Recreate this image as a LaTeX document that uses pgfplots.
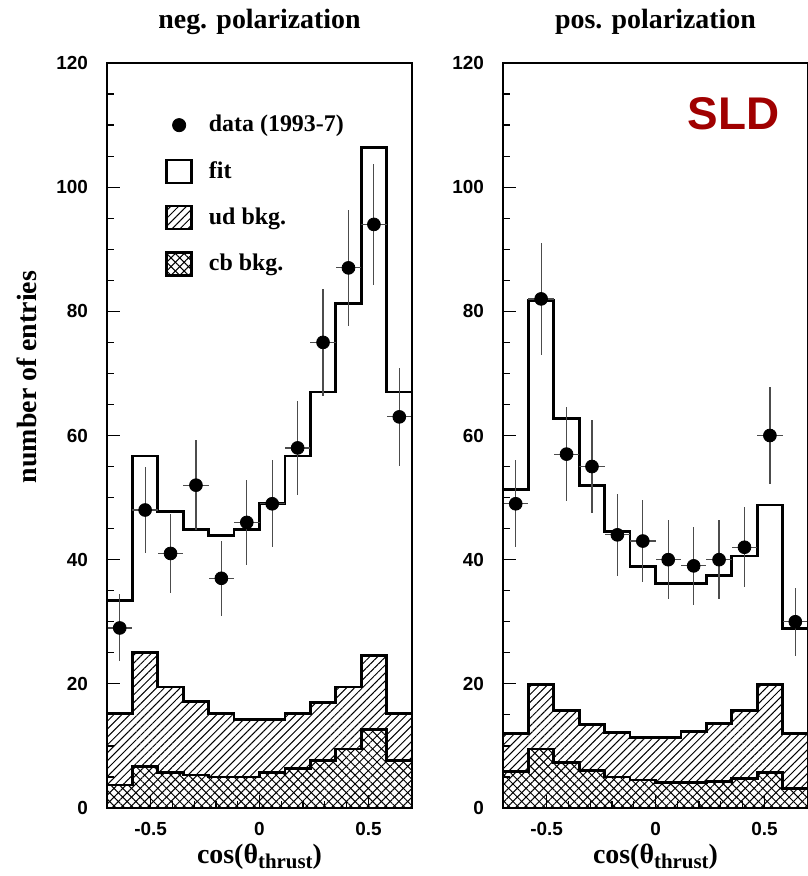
\documentclass[border=0pt]{standalone}
\usepackage{fontspec}
\setmainfont{Liberation Serif}
\setsansfont{Liberation Sans}
\usepackage{pgfplots}
\usepackage{pgfplotstable}
\pgfplotsset{compat=1.18}
\usetikzlibrary{patterns.meta}
\definecolor{sldred}{RGB}{160,0,0}

\pgfplotstableread{
edge fit ud cb
-0.70000 33.4 15.2 3.7
-0.58333 56.7 25.1 6.7
-0.46667 47.8 19.5 5.7
-0.35000 44.8 17.1 5.3
-0.23333 43.9 15.2 5.0
-0.11667 44.9 14.2 5.0
0.00000 49.0 14.2 5.7
0.11667 56.7 15.2 6.4
0.23333 67.0 17.0 7.7
0.35000 81.3 19.5 9.5
0.46667 106.4 24.6 12.6
0.58333 67.0 15.2 7.7
0.70000 67.0 15.2 7.7
}\negH

\pgfplotstableread{
x y ey
-0.64167 29 5.39
-0.52500 48 6.93
-0.40833 41 6.40
-0.29167 52 7.21
-0.17500 37 6.08
-0.05833 46 6.78
0.05833 49 7.00
0.17500 58 7.62
0.29167 75 8.66
0.40833 87 9.33
0.52500 94 9.70
0.64167 63 7.94
}\negD

\pgfplotstableread{
edge fit ud cb
-0.70000 51.3 12.0 5.9
-0.58333 81.8 19.9 9.5
-0.46667 62.8 15.7 7.3
-0.35000 52.0 13.5 6.0
-0.23333 44.5 12.1 5.0
-0.11667 38.9 11.4 4.5
0.00000 36.2 11.4 4.1
0.11667 36.1 12.3 4.1
0.23333 37.4 13.6 4.3
0.35000 40.6 15.7 4.7
0.46667 48.8 19.9 5.7
0.58333 28.9 12.0 3.2
0.70000 28.9 12.0 3.2
}\posH

\pgfplotstableread{
x y ey
-0.64167 49 7.00
-0.52500 82 9.06
-0.40833 57 7.55
-0.29167 55 7.42
-0.17500 44 6.63
-0.05833 43 6.56
0.05833 40 6.32
0.17500 39 6.24
0.29167 40 6.32
0.40833 42 6.48
0.52500 60 7.75
0.64167 30 5.48
}\posD

\tikzset{
  udpat/.style={pattern={Lines[angle=45,distance=2.8bp,line width=0.5bp]}},
  cbpatA/.style={pattern={Lines[angle=45,distance=3.1bp,line width=0.5bp]}},
  cbpatB/.style={pattern={Lines[angle=-45,distance=3.1bp,line width=0.5bp]}},
}

\pgfplotsset{
  myax/.style={
    scale only axis, width=152.5bp, height=372.5bp,
    xmin=-0.7, xmax=0.7, ymin=0, ymax=120,
    xtick={-0.5,0,0.5}, minor x tick num=4,
    ytick={0,20,...,120}, minor y tick num=3,
    tick align=inside, xtick pos=bottom, ytick pos=left,
    major tick length=6.5bp, minor tick length=3.5bp,
    axis on top,
    axis line style={line width=1bp},
    every tick/.style={black, line width=0.6bp},
    tick label style={font=\sffamily\bfseries\fontsize{9.5}{11}\selectfont},
    /pgf/number format/assume math mode=true,
    yticklabel style={xshift=-6bp},
    xticklabel style={yshift=-3.6bp},
    title style={at={(axis description cs:0.5,1)}, anchor=base, yshift=11.5bp,
      font=\bfseries\fontsize{14}{16}\selectfont},
    xlabel style={at={(axis description cs:0.5,0)}, anchor=base, yshift=-27.5bp,
      font=\bfseries\fontsize{14}{16}\selectfont},
    xlabel={cos(θ\raisebox{-0.4ex}{\fontsize{10.5}{12}\selectfont thrust})},
    hist/.style={const plot, line width=1.4bp, black, forget plot},
    pts/.style={only marks, mark=*, mark size=3.2bp, black, forget plot,
      error bars/.cd, y dir=both, y explicit, x dir=both, x fixed=0.05833,
      error mark=none, error bar style={line width=0.6bp, black!70}},
  }
}

\begin{document}
\begin{tikzpicture}
\useasboundingbox (0,0) rectangle (404bp,438bp);
\begin{axis}[myax, at={(53.5bp,34bp)}, anchor=south west,
  title={neg. polarization},
  ylabel={number of entries},
  ylabel style={at={(axis description cs:-0.2295,0.5785)}, anchor=base,
    font=\bfseries\fontsize{14}{16}\selectfont},
  legend style={at={(axis description cs:0.19,0.9356)}, anchor=north west,
    draw=none, fill=none, inner sep=0pt, row sep=9.3bp,
    font=\bfseries\fontsize{12}{14}\selectfont,
    /tikz/every odd column/.append style={column sep=6bp}},
  legend cell align=left,
]
\addplot[hist, udpat] table[x=edge,y=ud]{\negH} \closedcycle;
\addplot[hist, draw=none, fill=white] table[x=edge,y=cb]{\negH} \closedcycle;
\addplot[hist, draw=none, cbpatA] table[x=edge,y=cb]{\negH} \closedcycle;
\addplot[hist, cbpatB] table[x=edge,y=cb]{\negH} \closedcycle;
\addplot[hist] table[x=edge,y=fit]{\negH};
\addplot[pts] table[x=x,y=y,y error=ey]{\negD};
\addlegendimage{legend image code/.code={\fill[black] (6.25bp,0) circle (3.3bp);}}
\addlegendentry{data (1993-7)}
\addlegendimage{legend image code/.code={\draw[line width=1.3bp] (0,-5.75bp) rectangle (12.5bp,5.75bp);}}
\addlegendentry{fit}
\addlegendimage{legend image code/.code={\draw[line width=1.3bp, udpat] (0,-5.75bp) rectangle (12.5bp,5.75bp);}}
\addlegendentry{ud bkg.}
\addlegendimage{legend image code/.code={\path[cbpatA] (0,-5.75bp) rectangle (12.5bp,5.75bp);\draw[line width=1.3bp, cbpatB] (0,-5.75bp) rectangle (12.5bp,5.75bp);}}
\addlegendentry{cb bkg.}
\end{axis}
\begin{axis}[myax, at={(251.5bp,34bp)}, anchor=south west,
  title={pos. polarization},
]
\addplot[hist, udpat] table[x=edge,y=ud]{\posH} \closedcycle;
\addplot[hist, draw=none, fill=white] table[x=edge,y=cb]{\posH} \closedcycle;
\addplot[hist, draw=none, cbpatA] table[x=edge,y=cb]{\posH} \closedcycle;
\addplot[hist, cbpatB] table[x=edge,y=cb]{\posH} \closedcycle;
\addplot[hist] table[x=edge,y=fit]{\posH};
\addplot[pts] table[x=x,y=y,y error=ey]{\posD};
\node[text=sldred, font=\sffamily\bfseries\fontsize{23}{25}\selectfont, anchor=center]
  at (axis description cs:0.755,0.9315) {SLD};
\end{axis}
\end{tikzpicture}
\end{document}
